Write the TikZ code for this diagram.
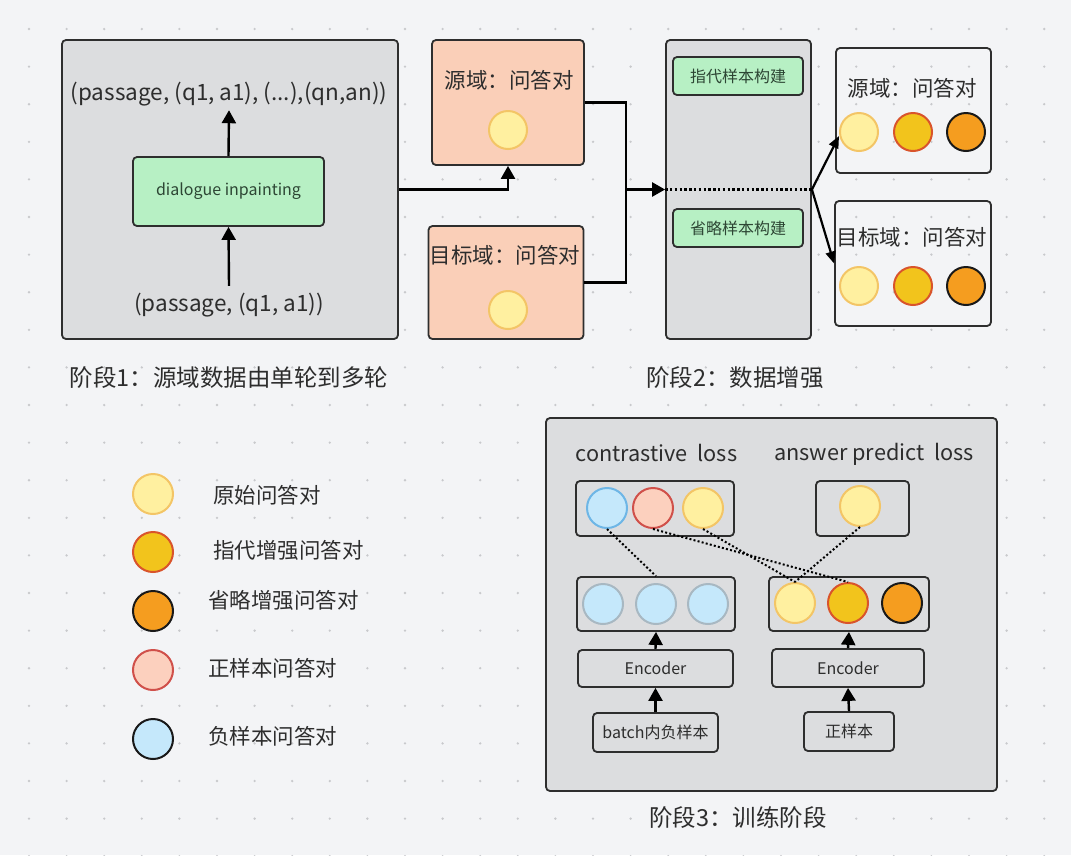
\documentclass[tikz,border=0pt]{standalone}
\usepackage{fontspec}
\setmainfont{Noto Sans CJK SC}
\usetikzlibrary{arrows.meta}
\definecolor{bg}{RGB}{243,244,246}
\definecolor{dotc}{RGB}{200,201,204}
\definecolor{boxg}{RGB}{220,221,223}
\definecolor{edge}{RGB}{46,46,46}
\definecolor{txt}{RGB}{45,45,45}
\definecolor{grn}{RGB}{183,240,196}
\definecolor{grntxt}{RGB}{45,70,52}
\definecolor{peach}{RGB}{250,207,184}
\definecolor{yfill}{RGB}{255,240,160}
\definecolor{yedge}{RGB}{243,197,102}
\definecolor{gfill}{RGB}{242,196,28}
\definecolor{gedge}{RGB}{217,84,43}
\definecolor{ofill}{RGB}{245,157,31}
\definecolor{pfill}{RGB}{252,208,190}
\definecolor{pedge}{RGB}{208,80,74}
\definecolor{bfill}{RGB}{197,232,251}
\definecolor{bedge}{RGB}{110,182,230}
\definecolor{bgrey}{RGB}{168,184,194}
\tikzset{
  box/.style={draw=edge, line width=1.8pt, rounded corners=4pt, inner sep=0pt},
  graybox/.style={box, fill=boxg},
  greenbox/.style={box, fill=grn, text=grntxt, font=\fontsize{16}{19}\selectfont},
  peachbox/.style={box, fill=peach},
  lbl/.style={text=txt, inner sep=0pt, font=\fontsize{21.5}{25}\selectfont},
  latin/.style={lbl, font=\fontsize{22.5}{26}\selectfont},
  loss/.style={lbl, font=\fontsize{21.7}{26}\selectfont},
  caption/.style={lbl, font=\fontsize{23.5}{28}\selectfont},
  sml/.style={text=txt, font=\fontsize{16}{19}\selectfont},
  dot/.style={circle, inner sep=0pt, minimum size=38pt, line width=2pt},
  ycirc/.style={dot, fill=yfill, draw=yedge},
  gcirc/.style={dot, fill=gfill, draw=gedge},
  ocirc/.style={dot, fill=ofill, draw=black!90},
  pcirc/.style={dot, fill=pfill, draw=pedge},
  bcirc/.style={dot, fill=bfill, draw=black!90},
  line/.style={draw=black, line width=2.4pt},
  arr/.style={line, -{Triangle[length=13pt,width=14pt]}},
  sarr/.style={line, line width=2.2pt, -{Triangle[length=12pt,width=10pt]}},
  dotted line/.style={draw=black, line width=2.4pt, dash pattern=on 2.4pt off 2.4pt},
}
\begin{document}
\begin{tikzpicture}[x=1pt,y=-1pt]
\useasboundingbox (0,0) rectangle (1071,855);
\fill[bg] (0,0) rectangle (1071,855);
\foreach \i in {0,...,28} {
  \foreach \j in {0,...,22} {
    \fill[dotc] ({29+37.6*\i},{29+37.6*\j}) circle (1.3);
  }
}
% ---------- Stage 1 ----------
\node[graybox, minimum width=336pt, minimum height=299pt] (s1) at (230,189.5) {};
\node[latin] (t1) at (229,94) {(passage, (q1, a1), (...),(qn,an))};
\node[greenbox, minimum width=191pt, minimum height=69pt] (g1) at (228.5,191.5) {dialogue inpainting};
\node[latin] (b1) at (229,305) {(passage, (q1, a1))};
\draw[arr] ([yshift=7pt]b1.north) -- (g1.south);
\draw[arr] (g1.north) -- ([yshift=-4pt]t1.south);

\node[peachbox, minimum width=152pt, minimum height=125pt] (src) at (508,102.5) {};
\node[lbl] (srct) at (509,80) {源域：问答对};
\node[ycirc] (srcc) at (508,130) {};
\node[peachbox, minimum width=155pt, minimum height=113pt] (tgt) at (506,282.5) {};
\node[lbl] (tgtt) at (505,255) {目标域：问答对};
\node[ycirc] (tgtc) at (508,310) {};

\draw[arr] (s1.east) -| (src.south);
\coordinate (j) at (626,189.5);
\draw[line] (src.east) -| (j);
\draw[line] (tgt.east) -| (j);

% ---------- Stage 2 ----------
\node[graybox, minimum width=145pt, minimum height=299pt] (s2) at (738.5,189.5) {};
\node[greenbox, minimum width=130pt, minimum height=38pt] (g2a) at (738,76) {指代样本构建};
\node[greenbox, minimum width=130pt, minimum height=38pt] (g2b) at (738,228) {省略样本构建};
\draw[arr] (j) -- (s2.west);
\draw[dotted line] (s2.west) -- (s2.east);

\node[box, minimum width=155pt, minimum height=125pt] (r1) at (913.5,110.5) {};
\node[lbl] (r1t) at (912,88) {源域：问答对};
\node[ycirc] (r1a) at (859,132) {};
\node[gcirc] (r1b) at (913,132) {};
\node[ocirc] (r1c) at (966,132) {};
\node[box, minimum width=156pt, minimum height=125pt] (r2) at (913,263.5) {};
\node[lbl] (r2t) at (912,237) {目标域：问答对};
\node[ycirc] (r2a) at (859,286) {};
\node[gcirc] (r2b) at (913,286) {};
\node[ocirc] (r2c) at (966,286) {};
\draw[sarr] (s2.east) -- ([yshift=-4pt]r1a.west);
\draw[sarr] (s2.east) -- (r2.west);

\node[caption] (cap1) at (229,378) {阶段1：源域数据由单轮到多轮};
\node[caption] (cap2) at (735,378) {阶段2：数据增强};

% ---------- Legend ----------
\node[ycirc, minimum size=40pt] (l1) at (153,494) {};
\node[gcirc, minimum size=40pt] (l2) at (153,552) {};
\node[ocirc, minimum size=40pt] (l3) at (153,611) {};
\node[pcirc, minimum size=40pt] (l4) at (153,670) {};
\node[bcirc, minimum size=40pt] (l5) at (153,739) {};
\node[lbl, anchor=west] (l1t) at (213,495) {原始问答对};
\node[lbl, anchor=west] (l2t) at (213,550) {指代增强问答对};
\node[lbl, anchor=west] (l3t) at (208,600) {省略增强问答对};
\node[lbl, anchor=west] (l4t) at (208,668) {正样本问答对};
\node[lbl, anchor=west] (l5t) at (208,736) {负样本问答对};

% ---------- Stage 3 ----------
\node[graybox, minimum width=451pt, minimum height=373pt] (s3) at (771.5,604.5) {};
\node[loss] (cl) at (656.5,453) {contrastive\ \ loss};
\node[loss] (al) at (874,454) {answer predict\ \ loss};

\node[graybox, minimum width=158pt, minimum height=55pt] (tl) at (655,508.5) {};
\node[dot, minimum size=40pt, fill=bfill, draw=bedge] (tb) at (607,508) {};
\node[pcirc, minimum size=40pt] (tp) at (653,508) {};
\node[ycirc, minimum size=40pt] (ty) at (703,508) {};
\node[graybox, minimum width=93pt, minimum height=55pt] (tr) at (862.5,508.5) {};
\node[ycirc, minimum size=40pt] (ay) at (860,506) {};

\node[graybox, minimum width=158pt, minimum height=54pt] (ml) at (656,604) {};
\node[dot, minimum size=40pt, fill=bfill, draw=bgrey] (m1) at (603,604) {};
\node[dot, minimum size=40pt, fill=bfill, draw=bgrey] (m2) at (656,604) {};
\node[dot, minimum size=40pt, fill=bfill, draw=bgrey] (m3) at (708,604) {};
\node[graybox, minimum width=160pt, minimum height=54pt] (mr) at (849,604) {};
\node[ycirc, minimum size=40pt] (o1) at (795,603) {};
\node[gcirc, minimum size=40pt] (o2) at (848,603) {};
\node[ocirc, minimum size=40pt] (o3) at (902,603) {};

\node[graybox, sml, minimum width=155pt, minimum height=37pt] (el) at (655.5,668.5) {Encoder};
\node[graybox, sml, minimum width=152pt, minimum height=38pt] (er) at (848,668) {Encoder};
\node[graybox, sml, minimum width=125pt, minimum height=39pt] (bt) at (655.5,732.5) {batch内负样本};
\node[graybox, sml, minimum width=90pt, minimum height=39pt] (ps) at (849,731.5) {正样本};

\draw[arr] (bt.north) -- (el.south);
\draw[arr] (el.north) -- (ml.south);
\draw[arr] (ps.north) -- (er.south);
\draw[arr] (er.north) -- (mr.south);

\draw[dotted line, line width=2pt, dash pattern=on 2pt off 2.2pt] (tb.south) -- (ml.north);
\draw[dotted line, line width=2pt, dash pattern=on 2pt off 2.2pt] (tp.south) -- (o2.north);
\draw[dotted line, line width=2pt, dash pattern=on 2pt off 2.2pt] (ty.south) -- (o1.north);
\draw[dotted line, line width=2pt, dash pattern=on 2pt off 2.2pt] (ay.south) -- (o1.north);

\node[caption] (cap3) at (738,818) {阶段3：训练阶段};
\end{tikzpicture}
\end{document}
